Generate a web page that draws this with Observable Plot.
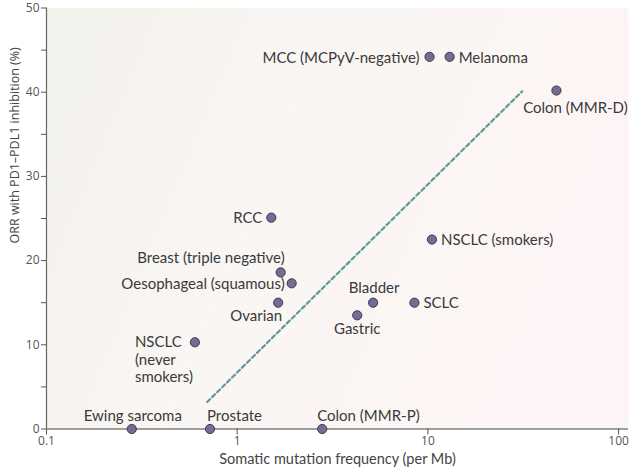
<!DOCTYPE html>
<html><head><meta charset="utf-8">
<script src="https://cdn.jsdelivr.net/npm/d3@7"></script>
<script src="https://cdn.jsdelivr.net/npm/@observablehq/plot@0.6"></script>
<style>body{margin:0;background:#fff;}</style>
</head><body><div id="chart"></div>
<script>
// ---- data ----
const cancers = ["Ewing sarcoma","Prostate","Colon (MMR-P)","NSCLC\n(never\nsmokers)","RCC","Breast (triple negative)","Oesophageal (squamous)","Ovarian","Bladder","Gastric","SCLC","NSCLC (smokers)","MCC (MCPyV-negative)","Melanoma","Colon (MMR-D)"];
const mutationFreq = [0.28, 0.72, 2.79, 0.60, 1.51, 1.69, 1.93, 1.64, 5.16, 4.26, 8.5, 10.5, 10.2, 13.0, 47.2];
const orr = [0, 0, 0, 10.3, 25.1, 18.6, 17.3, 15.0, 15.0, 13.5, 15.0, 22.5, 44.2, 44.2, 40.2];
const trendX = [0.696, 31.2];
const trendY = [3.2, 40.1];
const xTicks = [0.1, 1, 10, 100];
const yTicks = [0, 10, 20, 30, 40, 50];
const yMinorTicks = [5, 15, 25, 35, 45];

const points = cancers.map((name, i) => ({name, x: mutationFreq[i], y: orr[i]}));
const trend = trendX.map((x, i) => ({x, y: trendY[i]}));

// ---- label layout (style only) ----
const layout = {
  "Ewing sarcoma": {textAnchor: "middle", dx: 1, dy: -14},
  "Prostate": {textAnchor: "start", dx: -3, dy: -14},
  "Colon (MMR-P)": {textAnchor: "start", dx: -5, dy: -14},
  "NSCLC\n(never\nsmokers)": {textAnchor: "start", dx: -60, dy: -8, lineAnchor: "top"},
  "RCC": {textAnchor: "end", dx: -9, dy: 0},
  "Breast (triple negative)": {textAnchor: "end", dx: 4, dy: -15},
  "Oesophageal (squamous)": {textAnchor: "end", dx: -7, dy: 0},
  "Ovarian": {textAnchor: "end", dx: 4, dy: 13},
  "Bladder": {textAnchor: "middle", dx: 1, dy: -15},
  "Gastric": {textAnchor: "middle", dx: 0, dy: 13},
  "SCLC": {textAnchor: "start", dx: 9, dy: 0},
  "NSCLC (smokers)": {textAnchor: "start", dx: 9, dy: 0},
  "MCC (MCPyV-negative)": {textAnchor: "end", dx: -10, dy: 0},
  "Melanoma": {textAnchor: "start", dx: 9, dy: 0},
  "Colon (MMR-D)": {textAnchor: "middle", dx: 19, dy: 17}
};

const labelFont = "Lato, 'Open Sans', sans-serif";

const labelMarks = cancers.map(name => Plot.text(points, {
  filter: d => d.name === name,
  x: "x", y: "y", text: "name",
  fontSize: 15, fill: "#3a3a3a", fontFamily: labelFont,
  lineHeight: 1.18,
  lineAnchor: layout[name].lineAnchor || "middle",
  textAnchor: layout[name].textAnchor,
  dx: layout[name].dx, dy: layout[name].dy
}));

const chart = Plot.plot({
  width: 640,
  height: 473,
  marginLeft: 46,
  marginRight: 12,
  marginTop: 7.5,
  marginBottom: 44.5,
  style: {background: "#fff", fontFamily: "'Open Sans', sans-serif"},
  x: {type: "log", domain: [0.1, 112.7]},
  y: {domain: [0, 50]},
  marks: [
    Plot.frame({fill: "url(#bgGrad)", stroke: null}),
    Plot.axisY({ticks: yTicks, tickSize: 5, tickFormat: d => d, fontSize: 12, color: "#555", label: null, tickPadding: 2}),
    Plot.axisY({ticks: yMinorTicks, tickSize: 5, tickFormat: () => "", color: "#555", label: null}),
    Plot.axisX({ticks: xTicks, tickSize: 6, tickFormat: d => String(d), fontSize: 12, color: "#555", label: null, tickPadding: 1}),
    Plot.ruleY([0], {stroke: "#444", strokeWidth: 1.2}),
    Plot.ruleX([0.1], {stroke: "#666", strokeWidth: 1.2}),
    Plot.line(trend, {x: "x", y: "y", stroke: "#5d9a9b", strokeWidth: 2.2, strokeDasharray: "4,3"}),
    Plot.dot(points, {x: "x", y: "y", r: 4.6, fill: "#766b93", stroke: "#3e3752", strokeWidth: 1}),
    ...labelMarks,
    Plot.text(["Somatic mutation frequency (per Mb)"], {frameAnchor: "bottom", dy: 35, text: d => d, fontSize: 14.5, fill: "#444", fontFamily: labelFont}),
    Plot.text(["ORR with PD1–PDL1 inhibition (%)"], {frameAnchor: "left", dx: -32, dy: 25, rotate: -90, text: d => d, fontSize: 12.5, fill: "#444", fontFamily: "'Open Sans', sans-serif"})
  ]
});

const svg = d3.select(chart);
const defs = svg.insert("defs", ":first-child");
const g = defs.append("linearGradient").attr("id", "bgGrad").attr("x1", "0").attr("y1", "0").attr("x2", "1").attr("y2", "0.3");
g.append("stop").attr("offset", "0%").attr("stop-color", "#f3f1ec");
g.append("stop").attr("offset", "45%").attr("stop-color", "#f9f6f3");
g.append("stop").attr("offset", "100%").attr("stop-color", "#fdf5f5");
document.getElementById("chart").appendChild(chart);
</script>
</body></html>
